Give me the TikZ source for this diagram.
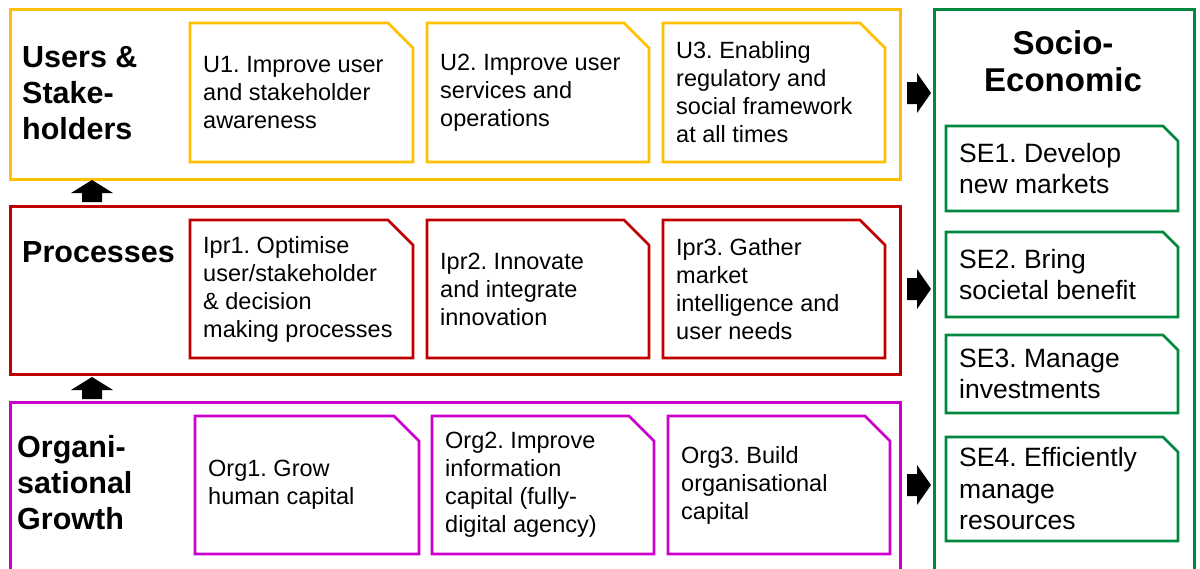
\documentclass[tikz,border=0pt]{standalone}
\usepackage{fontspec}
\setmainfont{Liberation Sans}
\frenchspacing
\begin{document}
\definecolor{ylw}{RGB}{255,192,0}
\definecolor{rd}{RGB}{192,0,0}
\definecolor{mag}{RGB}{204,0,204}
\definecolor{grn}{RGB}{0,136,62}
% Chamfered box: name, colour, x1, y1, x2, y2, chamfer, text, text style
\newcommand{\cbox}[9]{%
  \draw[#2, boxline] (#3,#4) -- ({#5-#7},#4) -- (#5,{#4+#7}) -- (#5,#6) -- (#3,#6) -- cycle;
  \node[#9, anchor=west] (#1) at ({#3+13},{(#4+#6)/2}) {#8};
}
\begin{tikzpicture}[x=1pt,y=-1pt,
  boxline/.style={line width=2.6pt, line join=miter},
  layer/.style={draw, line width=2.8pt, anchor=north west, inner sep=0pt},
  itext/.style={align=left, inner sep=0pt, font=\fontsize{23.5}{28}\selectfont},
  setext/.style={align=left, inner sep=0pt, font=\fontsize{26.5}{31.5}\selectfont},
  ttext/.style={align=left, inner sep=0pt, anchor=west, font=\fontsize{30.5}{36}\selectfont\bfseries},
  blockarrow/.style={fill=black, draw=none}]
\clip (0,0) rectangle (1200,568);
\fill[white] (0,0) rectangle (1200,568);

% Layers
\node[layer, draw=ylw, minimum width=890pt, minimum height=170pt] (users) at (9,8) {};
\node[layer, draw=rd, minimum width=890pt, minimum height=168pt] (proc) at (9,205) {};
\node[layer, draw=mag, minimum width=890pt, minimum height=190pt] (org) at (9,401) {};
\node[layer, draw=grn, minimum width=260pt, minimum height=590pt] (se) at (933,8) {};

% Layer titles
\node[ttext] (tusers) at (22,93) {Users \&\\Stake-\\holders};
\node[ttext] (tproc) at (22,252) {Processes};
\node[ttext] (torg) at (17,483) {Organi-\\sational\\Growth};
\node[align=center, inner sep=0pt, font=\fontsize{33}{37}\selectfont\bfseries] (tse) at (1063,61) {Socio-\\Economic};

% Users & stakeholders objectives
\cbox{u1}{ylw}{190}{23}{413}{162}{25}{U1. Improve user\\and stakeholder\\awareness}{itext}
\cbox{u2}{ylw}{427}{23}{649}{162}{25}{U2. Improve user\\services and\\operations}{itext}
\cbox{u3}{ylw}{663}{23}{885}{162}{25}{U3. Enabling\\regulatory and\\social framework\\at all times}{itext}

% Process objectives
\cbox{p1}{rd}{190}{220}{413}{358}{25}{Ipr1. Optimise\\user/stakeholder\\\& decision\\making processes}{itext}
\cbox{p2}{rd}{427}{220}{649}{358}{25}{Ipr2. Innovate\\and integrate\\innovation}{itext}
\cbox{p3}{rd}{663}{220}{885}{358}{25}{Ipr3. Gather\\market\\intelligence and\\user needs}{itext}

% Organisational growth objectives
\cbox{o1}{mag}{195}{416}{419}{554}{25}{Org1. Grow\\human capital}{itext}
\cbox{o2}{mag}{432}{416}{654}{554}{25}{Org2. Improve\\information\\capital (fully-\\digital agency)}{itext}
\cbox{o3}{mag}{668}{416}{890}{554}{25}{Org3. Build\\organisational\\capital}{itext}

% Socio-economic objectives
\cbox{s1}{grn}{946}{126}{1178}{211}{15}{SE1. Develop\\new markets}{setext}
\cbox{s2}{grn}{946}{232}{1178}{317}{15}{SE2. Bring\\societal benefit}{setext}
\cbox{s3}{grn}{946}{335}{1178}{413}{15}{SE3. Manage\\investments}{setext}
\cbox{s4}{grn}{946}{437}{1178}{541}{15}{SE4. Efficiently\\manage\\resources}{setext}

% Upward block arrows between layers
\foreach \t in {180,377}{
  \fill[blockarrow] (82,\t+22) -- (82,\t+13) -- (71,\t+13) -- (92,\t) -- (113,\t+13) -- (102,\t+13) -- (102,\t+22) -- cycle;
}
% Rightward block arrows into the socio-economic column
\foreach \c in {93,289,485}{
  \fill[blockarrow] (907,\c-11) -- (917,\c-11) -- (917,\c-20) -- (931,\c) -- (917,\c+20) -- (917,\c+11) -- (907,\c+11) -- cycle;
}
\end{tikzpicture}
\end{document}
